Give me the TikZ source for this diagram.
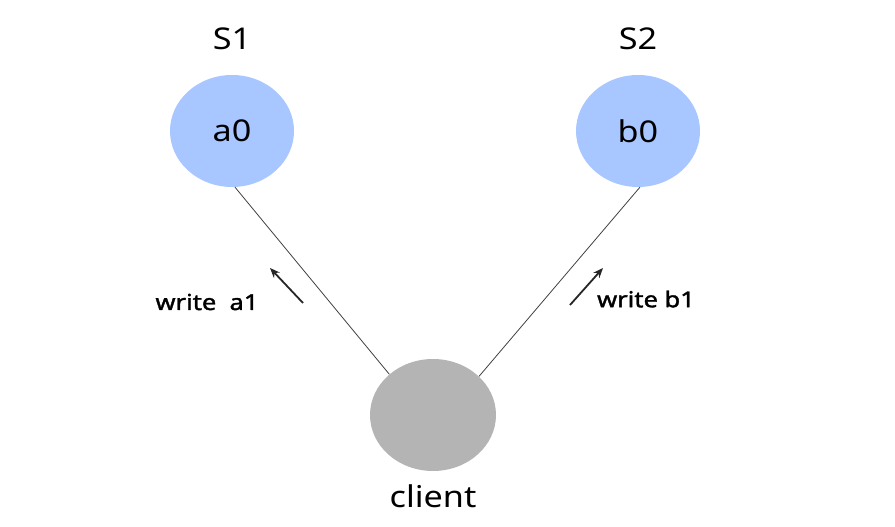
\documentclass[tikz,border=0pt]{standalone}
\usepackage{fontspec}
\setmainfont[FakeStretch=1.14]{Noto Sans}
\newfontfamily\wfont[FakeStretch=1.16,FakeBold=1.6]{Noto Sans}
\usetikzlibrary{arrows.meta,shapes.geometric}
\definecolor{srvblue}{RGB}{168,198,255}
\definecolor{cligray}{RGB}{180,180,180}
\begin{document}
\begin{tikzpicture}[x=1pt,y=1pt,
  srv/.style={ellipse,fill=srvblue,minimum width=124pt,minimum height=112pt,inner sep=0pt,font=\fontsize{30}{34}\selectfont},
  cli/.style={ellipse,fill=cligray,minimum width=126pt,minimum height=112pt,inner sep=0pt},
  lbl/.style={font=\fontsize{30}{34}\selectfont},
  wlbl/.style={font=\wfont\fontsize{22}{26}\selectfont},
  conn/.style={draw=black!75,line width=0.8pt},
  warr/.style={draw=black!85,line width=1.8pt,-{Stealth[length=10pt,width=8pt]}}]
\useasboundingbox (0,0) rectangle (895,527);
\node[srv] (a0) at (232,396) {a0};
\node[srv] (b0) at (638,396) {b0};
\node[cli] (cl) at (433,112) {};
\node[lbl] (s1) at (232,488) {S1};
\node[lbl] (s2) at (638,488) {S2};
\node[lbl] (cltxt) at (433,31) {client};
\draw[conn] (a0.-87) -- (cl.137);
\draw[conn] (b0.-88) -- (cl.40);
\coordinate (la1) at (303,224);
\coordinate (la2) at (270,259);
\coordinate (rb1) at (570,222);
\coordinate (rb2) at (603,259);
\draw[warr] (la1) -- (la2);
\draw[warr] (rb1) -- (rb2);
\node[wlbl] (wa) at (207,225) {write\ \ a1};
\node[wlbl] (wb) at (646,228) {write b1};
\end{tikzpicture}
\end{document}
